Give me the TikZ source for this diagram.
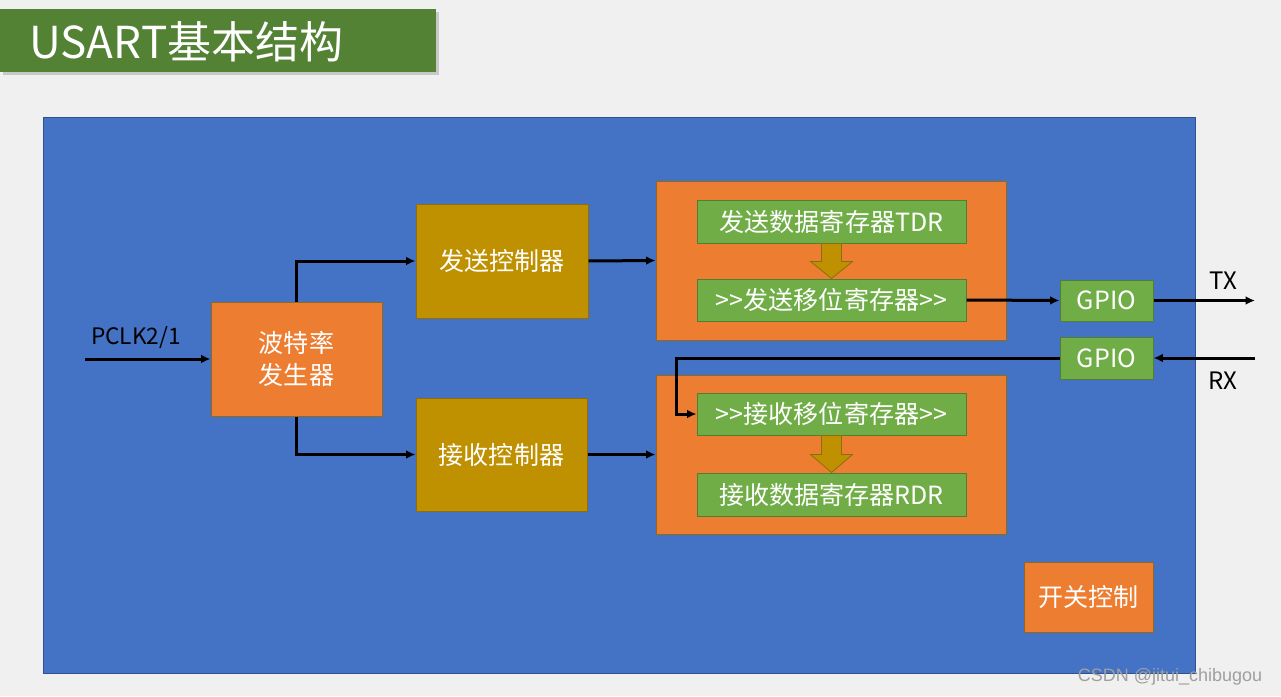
\documentclass[tikz,border=0pt]{standalone}
\usepackage{fontspec}
\setmainfont{Noto Sans CJK SC}
\newfontfamily\markfont{Liberation Sans}
\usetikzlibrary{arrows.meta,calc,fit,shadows}

\definecolor{bgGray}{HTML}{F0F0F0}
\definecolor{titleGreen}{HTML}{548235}
\definecolor{boardBlue}{HTML}{4472C4}
\definecolor{boardLine}{HTML}{2F528F}
\definecolor{unitOrange}{HTML}{ED7D31}
\definecolor{unitLine}{HTML}{8F6A1C}
\definecolor{ctlGold}{HTML}{BF9000}
\definecolor{ctlLine}{HTML}{8C6D10}
\definecolor{regGreen}{HTML}{70AD47}
\definecolor{regLine}{HTML}{507E32}

\tikzset{every picture/.style={line width=0.75pt}}

\begin{document}
\begin{tikzpicture}[
            x=0.75pt,
            y=0.75pt,
            yscale=-1,
            xscale=1,
            every node/.style={text=black},
            txt/.style={font=\fontsize{18}{23}\selectfont},
            intxt/.style={text=white, inner sep=0pt, align=center, font=\fontsize{18.8}{24}\selectfont},
            unit/.style={draw=unitLine, fill=unitOrange, inner sep=0pt},
            ctl/.style={draw=ctlLine, fill=ctlGold, inner sep=0pt},
            reg/.style={draw=regLine, fill=regGreen, inner sep=0pt},
            conn/.style={line width=2.25pt, -{Latex[length=7pt,width=6.5pt]}},
            fatarrow/.style={fill=ctlGold, draw=ctlLine, line width=0.6pt}
        ]
            \useasboundingbox (0,0) rectangle (1281,696);
            \fill [bgGray] (0,0) rectangle (1281,696);

            % title
            \node [fill=titleGreen, inner sep=0pt, fit={(0,9) (436,72)},
                   drop shadow={shadow xshift=2pt, shadow yshift=-2pt, opacity=0.35}] (titlebar) {};
            \node [anchor=west, text=white, inner sep=0pt, font=\fontsize{33}{38}\selectfont] (title) at (29,42) {USART基本结构};

            % board
            \node [draw=boardLine, fill=boardBlue, inner sep=0pt, fit={(43,117) (1195,673)}] (board) {};

            \node [unit, fit={(211,302) (382,416)}] (baud) {};
            \node [ctl, fit={(416,204) (588,318)}] (txctl) {};
            \node [ctl, fit={(416,398) (587,511)}] (rxctl) {};

            \node [unit, fit={(656,181) (1006,340)}] (txbox) {};
            \node [unit, fit={(656,375) (1006,534)}] (rxbox) {};

            \node [reg, fit={(697,200) (966,243)}] (tdr) {};
            \node [reg, fit={(697,279) (966,321)}] (txsr) {};
            \node [reg, fit={(697,393) (966,435)}] (rxsr) {};
            \node [reg, fit={(697,473) (966,516)}] (rdr) {};

            \node [reg, fit={(1060,280) (1153,321)}] (gpiotx) {};
            \node [reg, fit={(1060,337) (1153,379)}] (gpiorx) {};

            \node [unit, fit={(1024,562) (1153,632)}] (switch) {};

            % texts inside the blocks
            \node [intxt] (baudtxt) at (baud) {波特率\\发生器};
            \node [intxt] (txctltxt) at (txctl) {发送控制器};
            \node [intxt] (rxctltxt) at (rxctl) {接收控制器};
            \node [intxt] (tdrtxt) at (tdr) {发送数据寄存器TDR};
            \node [intxt] (txsrtxt) at (txsr) {>{}>发送移位寄存器>{}>};
            \node [intxt] (rxsrtxt) at (rxsr) {>{}>接收移位寄存器>{}>};
            \node [intxt] (rdrtxt) at (rdr) {接收数据寄存器RDR};
            \node [intxt] (gpiotxtxt) at (gpiotx) {GPIO};
            \node [intxt] (gpiorxtxt) at (gpiorx) {GPIO};
            \node [intxt] (switchtxt) at (switch) {开关控制};

            % fat arrows between registers
            \draw [fatarrow] ($(tdr.south)+(-10,0)$) -- ($(tdr.south)+(10,0)$) -- ($(tdr.south)+(10,18)$) -- ($(tdr.south)+(21,18)$)
                -- (txsr.north) -- ($(tdr.south)+(-21,18)$) -- ($(tdr.south)+(-10,18)$) -- cycle;
            \draw [fatarrow] ($(rxsr.south)+(-10,0)$) -- ($(rxsr.south)+(10,0)$) -- ($(rxsr.south)+(10,19)$) -- ($(rxsr.south)+(21,19)$)
                -- (rdr.north) -- ($(rxsr.south)+(-21,19)$) -- ($(rxsr.south)+(-10,19)$) -- cycle;

            % connectors
            \coordinate (clkin) at (85,359);
            \coordinate (txout) at (1255,300.5);
            \coordinate (rxin) at (1255,358);

            \draw [conn] (clkin) -- (baud.west);
            \draw [conn] (baud.north) |- (txctl.west);
            \draw [conn] (baud.south) |- (rxctl.west);
            \draw [conn] (txctl.east) -- (txbox.west);
            \draw [conn] (rxctl.east) -- (rxbox.west);
            \draw [conn] (txsr.east) -- (gpiotx.west);
            \draw [conn] (gpiotx.east) -- (txout);
            \draw [conn] (rxin) -- (gpiorx.east);
            \draw [conn] (gpiorx.west) -| ($(rxsr.west)+(-20,0)$) -- (rxsr.west);

            \node [txt, font=\fontsize{17}{20}\selectfont] (clklabel) at (136,338) {PCLK2/1};
            \node [txt] (txlabel) at (1223,281) {TX};
            \node [txt] (rxlabel) at (1223,381) {RX};

            \node [text=gray!75, font=\markfont\fontsize{13.5}{16}\selectfont] (mark) at (1170,677) {CSDN @jitui\_chibugou};
        \end{tikzpicture}
\end{document}
